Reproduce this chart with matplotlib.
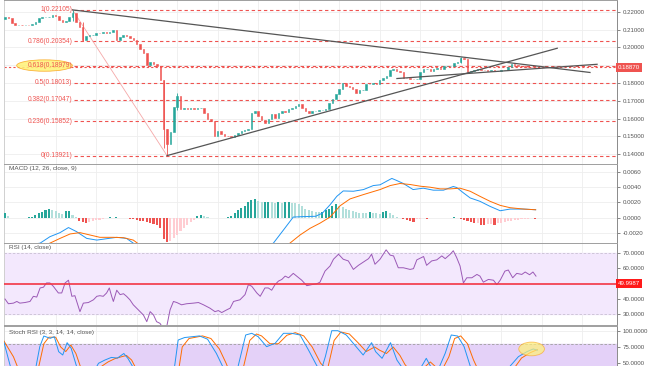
import matplotlib.pyplot as plt
from matplotlib.patches import Ellipse

plt.rcParams['font.family'] = ['Liberation Sans', 'DejaVu Sans']

# ---- price candles (close per bar, open = previous close) ----
first_open = 0.2160
closes = [
    0.2170, 0.2165, 0.2135, 0.2125, 0.2128, 0.2125, 0.2127, 0.2124, 0.2130, 0.2145,
    0.2164, 0.2168, 0.2170, 0.2172, 0.2180, 0.2176, 0.2155, 0.2140, 0.2150, 0.2170,
    0.2195, 0.2140, 0.2115, 0.2040, 0.2065, 0.2068, 0.2072, 0.2080, 0.2078, 0.2085,
    0.2083, 0.2088, 0.2100, 0.2040, 0.2060, 0.2068, 0.2062, 0.2055, 0.2040, 0.2020,
    0.1990, 0.1970, 0.1900, 0.1916, 0.1905, 0.1898, 0.1814, 0.1540, 0.1460, 0.1525,
    0.1665, 0.1725, 0.1652, 0.1660, 0.1655, 0.1658, 0.1655, 0.1660, 0.1662, 0.1630,
    0.1600, 0.1588, 0.1500, 0.1530, 0.1515, 0.1503, 0.1500, 0.1498, 0.1510, 0.1520,
    0.1530, 0.1535, 0.1542, 0.1630, 0.1645, 0.1612, 0.1590, 0.1577, 0.1598, 0.1628,
    0.1605, 0.1633, 0.1645, 0.1635, 0.1655, 0.1661, 0.1672, 0.1684, 0.1662, 0.1645,
    0.1633, 0.1640, 0.1644, 0.1646, 0.1648, 0.1655, 0.1690, 0.1710, 0.1740, 0.1768,
    0.1800, 0.1785, 0.1775, 0.1768, 0.1746, 0.1758, 0.1760, 0.1795, 0.1797, 0.1800,
    0.1797, 0.1814, 0.1830, 0.1838, 0.1875, 0.1880, 0.1868, 0.1862, 0.1830, 0.1826,
    0.1824, 0.1823, 0.1825, 0.1860, 0.1876, 0.1878, 0.1865, 0.1880, 0.1882, 0.1880,
    0.1893, 0.1897, 0.1898, 0.1912, 0.1918, 0.1938, 0.1932, 0.1860, 0.1870, 0.1873,
    0.1877, 0.1875, 0.1872, 0.1870, 0.1873, 0.1868, 0.1870, 0.1872, 0.1875, 0.1888,
    0.1905, 0.1900, 0.1898, 0.1893, 0.1890, 0.1889, 0.1888, 0.1887,
]
wick_idx = [20, 23, 47, 48, 51, 135]
wick_hi = [0.22105, 0.2140, 0.1814, 0.1540, 0.1745, 0.1945]
wick_lo = [0.2150, 0.2035, 0.1435, 0.13921, 0.1650, 0.1915]

fib_ratios = ['1', '0.786', '0.618', '0.5', '0.382', '0.236', '0']
fib_prices = [0.22105, 0.20354, 0.18979, 0.18013, 0.17047, 0.15852, 0.13921]
last_price = 0.18870

# trend lines: (start bar, start price, end bar, end price)
trend_lines = [
    (20, 0.22105, 173.3, 0.1859),
    (48, 0.13921, 163.6, 0.1995),
    (116.1, 0.1825, 175.4, 0.1905),
]
price_ticks = [0.14, 0.15, 0.16, 0.17, 0.18, 0.19, 0.20, 0.21, 0.22]

# ---- MACD (histogram in 1e-4 units) ----
macd_hist = [
    6, 2, 0.3, -0.2, -0.3, -0.2, 0.2, 0.5, 1.5, 4,
    6, 7.5, 9.6, 11.4, 10.5, 8.3, 6.1, 4.8, 8.3, 9.2,
    3.9, 0.5, -3.5, -4.8, -7, -5.7, -3.5, -2.6, -2.2, -1.3,
    -0.4, 1.7, 0.3, 1.7, 0.3, 0.4, 0.2, -0.9, -1.8, -2.6,
    -3.5, -4.4, -5.7, -7, -8.3, -9.6, -13.6, -27, -32, -30,
    -26, -22, -17, -13, -9, -5.5, -2.5, 3, 4, 2.5,
    1.5, 0.3, -0.3, -0.5, -0.4, -0.2, 1.7, 2, 6, 9.6,
    12.7, 14.9, 20, 22.8, 24.6, 21.5, 20.2, 20.6, 20.8, 20.2,
    19.7, 20.2, 19.3, 20.2, 20.4, 19.3, 19.0, 17.5, 14.9, 11.4,
    9.6, 8.3, 7.5, 7.0, 7.9, 9.6, 11.4, 14.9, 18, 16,
    13.6, 11.4, 9.6, 8.3, 7.0, 6.8, 6.7, 6.6, 7.9, 6.1,
    5.7, 5.5, 7.5, 8.3, 6.1, 3.9, 1.7, 0.4, -1.8, -2.6,
    -4.4, -4.8, -1.8, -0.9, -0.6, -1.5, -0.4, -0.3, -0.2, -0.3,
    -0.4, -0.2, 0.2, 0.8, 0.2, -1.8, -2.6, -3.9, -5.3, -7,
    -6.1, -9.2, -9.4, -8.3, -8.1, -9.2, -7, -6.1, -5.3, -4.4,
    -3.5, -2.6, -2.2, -1.8, -1.3, -0.9, -0.8, -0.9,
]
macd_x = [0, 10.4, 13.3, 16.3, 18.8, 21.2, 24.2, 27.2, 30.1, 33.1, 36, 38, 40, 48,
          60, 72, 79.5, 82.5, 85.4, 88, 92, 94, 96.3, 98.3, 100.2, 103.2, 106.2,
          109.1, 111.1, 113.1, 114.6, 116, 118, 120.9, 123.9, 126.9, 129.9, 132.8,
          133.8, 135.8, 137.8, 140.7, 143.7, 146.7, 149.6, 153.6, 157.2]
macd_v = [-40, -33, -24.6, -19.3, -12.7, -18, -26.8, -29, -27.2, -25.4, -26.8, -33, -45, -75,
          -70, -50, -33, -15.8, 1, 1.5, 2, 6, 17, 28, 35, 34.6, 36.8,
          42, 43, 47.8, 51.3, 48.7, 44.7, 36.8, 38.6, 36, 36, 40.8,
          39.5, 32.5, 25.9, 21.5, 14.9, 9.2, 11.4, 11.4, 10.5]
signal_x = [0, 10, 13.3, 16.3, 19.3, 22.2, 25.2, 28.1, 32.1, 35.1, 38, 40, 48, 60,
            72, 80, 84.4, 87.4, 90.4, 93.3, 96.3, 99.3, 102.2, 106.2, 111.1, 114.1,
            117, 120, 123, 125.9, 128.9, 131.9, 134.8, 137.8, 140.7, 143.7, 146.7,
            149.6, 153.6, 157.2]
signal_v = [-45, -38, -33, -26.8, -21, -19.3, -22.4, -25.4, -25.4, -25.9, -29, -35.5, -50, -65,
            -60, -45, -33, -22.4, -13.6, -7, 1, 15.8, 24.6, 30.3, 36.8, 42,
            44.7, 43.4, 41.2, 39.9, 37.7, 37.7, 38.6, 34.6, 28, 21.5, 16.2,
            13.2, 11.4, 10.5]
macd_ticks = [-0.002, 0.0, 0.002, 0.004, 0.006]

# ---- RSI ----
rsi_x = [0, 1, 2.5, 3.5, 4.4, 5.9, 7.4, 8.4, 9.4, 10.4, 11.4, 12.3, 13.3, 14.3, 15.8,
         16.8, 17.8, 18.8, 19.8, 20.7, 22.2, 23.2, 24.7, 26.2, 27.2, 28.1, 29.1, 30.1,
         30.9, 31.6, 32.1, 33.1, 34.1, 35.1, 36, 37, 38, 39, 40, 41, 42, 43, 44, 44.9,
         45.9, 46.9, 47.9, 48.9, 49.9, 50.9, 52.3, 53.8, 55.8, 57.3, 58.8, 60.7, 62.2,
         63.2, 64.2, 65.7, 66.7, 67.7, 68.6, 69.6, 71.1, 72.1, 73.1, 74.6, 75.6, 77, 78,
         79, 80, 81, 82, 83, 84, 85.4, 86.4, 87.9, 89.4, 90.9, 92.3, 93.3, 94.8, 96.3,
         97.3, 98.8, 100.2, 101.7, 103.2, 104.7, 106.2, 107.7, 108.6, 109.6, 111.1,
         112.9, 114.1, 115.1, 116.5, 118, 120, 121, 122, 124, 124.9, 126.4, 127.9,
         129.4, 130.4, 131.9, 132.8, 133.8, 134.8, 135.8, 136.8, 138.3, 139.8, 140.7,
         141.7, 143.2, 144.7, 145.7, 146.7, 148.1, 149.1, 150.4, 151.6, 153.1, 154.1,
         155.4, 156.4, 157.3]
rsi_v = [39.8, 36.7, 37.1, 38.2, 37.1, 37.5, 38.2, 41.6, 41.1, 47.1, 47.6, 50.4, 50.4, 48.2, 43.8,
         43.8, 50.4, 52.2, 41.6, 42, 31.5, 37.1, 37.5, 39.3, 41.6, 42, 41.6, 43.8,
         47.1, 41.6, 38.2, 45.6, 42.7, 43.3, 41.6, 39.3, 36, 33.8, 31.5, 29.3, 24.9, 31.5, 29.3, 24.9,
         23.8, 20.4, 21.6, 32.7, 38.2, 37.5, 36, 36.7, 37.1, 37.5, 36, 33.8, 31.5,
         32.2, 30.9, 32.7, 33.8, 38.2, 38.7, 39.3, 42.7, 49.3, 48.2, 43.8, 41.6, 47.1, 47.1,
         45.6, 49.3, 51.6, 52.7, 54.9, 53.8, 56.7, 54.9, 52.2, 48.6, 49.3, 49.8, 50.9, 58.2, 61.6,
         66, 69.3, 66, 64.9, 59.3, 62, 64.2, 66.4, 69.3, 62.7, 66,
         72.2, 68.7, 68.2, 60.4, 60.4, 59.3, 59.8, 65.6, 67.8, 62, 64.9, 65.6,
         68.2, 66.4, 69.3, 71.6, 67.1, 61.6, 50.4, 53.8, 53.8, 56, 54.9,
         50.9, 52.7, 52.2, 49.3, 52.2, 58.2, 58.9, 53.8, 56.7, 56, 57.6,
         55.8, 57.6, 54.9]
rsi_mid = 49.9987
rsi_ticks = [30, 40, 60, 70]

# ---- Stoch RSI ----
stoch_k_x = [-0.3, 1.6, 5.3, 9, 10.3, 11.5, 13.4, 14.6, 15.9, 17.1, 18.4, 19.6, 21.5, 23.9,
             27.7, 29.6, 31.5, 33.3, 35.2, 36.4, 37.7, 40, 45, 50.1, 51.3, 53.2, 57.6, 60,
             62.6, 64.4, 66.3, 68.8, 71.3, 73.1, 75, 77.5, 80, 82.5, 84.9, 87.4, 89.9,
             92.4, 93.7, 94.9, 96.8, 98.6, 101.1, 103.6, 106.1, 108.6, 109.8, 111.7,
             114.2, 116.1, 117.3, 120.4, 123.5, 124.8, 126, 127.9, 130.4, 132.2, 134.1,
             136, 137.8, 140.9, 145.9, 149.7, 152.1, 154.6, 156.5, 157.7]
stoch_k_v = [82, 45, 10, 40, 75.5, 91.8, 88.3, 90.8, 67.8, 62.7, 81.6, 73, 40, 15,
             50, 55, 59, 58, 65, 57.6, 46, 20, 5, 40, 85.7, 89.5, 92, 87,
             65.3, 46, 20, 40, 93.4, 96, 90.8, 75.5, 80.6, 96, 96, 93.4, 70.4,
             46, 40, 60.2, 100, 100, 93.4, 78, 62.7, 81.6, 67.8, 57.6,
             81.6, 55, 46, 30, 46, 57.6, 46, 35, 65.3, 93.4, 91.8,
             75.5, 46, 20, 20, 46, 60.2, 67.8, 72, 70]
stoch_d_x = [-0.3, 2.5, 6, 10, 11.5, 13, 15, 16.5, 18, 19.5, 21, 23, 25.5, 28.5, 30.5,
             32.5, 34.5, 36, 37.5, 39, 41.5, 46, 51, 52.5, 54.5, 58.5, 61, 63.5, 65.5,
             67.5, 70, 72.5, 74.5, 76, 78.5, 81, 83.5, 86, 88.5, 91, 93.5, 95.5, 97.5,
             99.5, 102, 104.5, 107, 109.5, 111, 113, 115, 117, 118.5, 121.5, 124.5, 126,
             127.5, 129, 131.5, 133.2, 135, 137, 138.8, 141.5, 146.5, 150.5, 153, 155.5,
             157.7]
stoch_d_v = [84, 60, 15, 45, 80, 90, 90, 75, 68, 78, 65, 35, 15, 45, 52,
             57, 60, 62, 55, 40, 15, 5, 25, 75, 88, 92, 88, 72, 50,
             25, 30, 85, 95, 92, 80, 80, 93, 97, 92, 75, 50, 40, 85,
             98, 95, 82, 68, 75, 70, 65, 75, 62, 48, 30, 45, 52,
             45, 35, 60, 88, 92, 80, 55, 25, 20, 40, 58, 66,
             71]
stoch_ticks = [50, 75, 100]

UP, DOWN = '#26a69a', '#ef5350'
FIB_RED = '#ef5350'
X_LEFT, X_RIGHT = -0.3, 181.3
TICK_KW = dict(labelsize=4.4, colors='#555555', length=2, width=0.5, pad=2)

fig = plt.figure(figsize=(6.54, 3.66), dpi=100)
W, H = 654.0, 366.0


def panel(top, bottom):
    ax = fig.add_axes([4 / W, 1 - bottom / H, 613 / W, (bottom - top) / H])
    ax.set_xlim(X_LEFT, X_RIGHT)
    ax.yaxis.tick_right()
    ax.tick_params(axis='y', **TICK_KW)
    ax.tick_params(axis='x', length=0, labelbottom=False)
    ax.set_xticks(range(15, 182, 12))
    ax.grid(True, color='#eeeeee', linewidth=0.6, zorder=0)
    ax.set_axisbelow(True)
    ax.spines['left'].set_color('#d0d0d0')
    ax.spines['right'].set_color('#8a8a8a')
    ax.spines['top'].set_color('#9e9e9e')
    ax.spines['bottom'].set_color('#9e9e9e')
    for s in ax.spines.values():
        s.set_linewidth(0.7)
    return ax


# ---------- price panel ----------
ax = panel(0, 164)
ax.set_ylim(0.1345, 0.2266)
ax.set_yticks(price_ticks)
# the 0.19000 label sits under the last-price box, so leave it blank
ax.set_yticklabels(['' if abs(t - 0.19) < 1e-9 else '%.5f' % t for t in price_ticks])

opens = [first_open] + closes[:-1]
for i, (o, c) in enumerate(zip(opens, closes)):
    col = UP if c >= o else DOWN
    ax.bar(i, c - o, bottom=o, width=0.45, color=col, edgecolor=col, linewidth=0.4, zorder=3)
for i, hi, lo in zip(wick_idx, wick_hi, wick_lo):
    col = UP if closes[i] >= opens[i] else DOWN
    ax.vlines(i, lo, hi, color=col, linewidth=0.6, zorder=3)

for r, p in zip(fib_ratios, fib_prices):
    ax.hlines(p, 20.3, X_RIGHT, colors=FIB_RED, linewidth=0.8, linestyles=(0, (3, 2.5)), zorder=2)
    ax.text(19.9, p, '%s(%.5f)' % (r, p), color=FIB_RED, fontsize=4.8,
            ha='right', va='center', zorder=6)
ax.axhline(last_price, color=FIB_RED, linewidth=0.8, linestyle=(0, (2, 2)), zorder=2)
ax.plot([wick_idx[0], wick_idx[3]], [fib_prices[0], fib_prices[-1]],
        color='#f5a8a8', linewidth=0.6, zorder=2)
for x0, y0, x1, y1 in trend_lines:
    ax.plot([x0, x1], [y0, y1], color='#555555', linewidth=0.9, zorder=4)

ax.add_patch(Ellipse((11.7, fib_prices[2]), 16.5, 0.0064, facecolor='#fff176',
                     edgecolor='#f9a825', linewidth=0.6, alpha=0.85, zorder=5))
ax.text(1.0015, last_price, '0.18870', transform=ax.get_yaxis_transform(),
        fontsize=4.4, color='white', ha='left', va='center', zorder=10, clip_on=False,
        bbox=dict(boxstyle='square,pad=0.35', facecolor='#ef5350', edgecolor='none'))

# ---------- MACD panel ----------
ax = panel(164, 243)
ax.set_ylim(-0.00328, 0.00701)
ax.set_yticks(macd_ticks)
ax.set_yticklabels(['%.4f' % t for t in macd_ticks])
prev = 0
for i, v in enumerate(macd_hist):
    if v >= 0:
        col = '#26a69a' if v >= prev else '#b2dfdb'
    else:
        col = '#ef5350' if v <= prev else '#ffcdd2'
    ax.bar(i, v * 1e-4, width=0.62, color=col, zorder=3)
    prev = v
ax.plot(macd_x, [v * 1e-4 for v in macd_v], color='#2196f3', linewidth=0.7, zorder=4)
ax.plot(signal_x, [v * 1e-4 for v in signal_v], color='#ff6d00', linewidth=0.7, zorder=4)
ax.text(1.2, 0.0064, 'MACD (12, 26, close, 9)', fontsize=4.6, color='#555555',
        ha='left', va='center')

# ---------- RSI panel ----------
ax = panel(243, 325)
ax.set_ylim(22.7, 76.7)
ax.set_yticks(rsi_ticks)
ax.set_yticklabels(['%.4f' % t for t in rsi_ticks])
ax.axhspan(30, 70, color='#f3e8fd', zorder=1)
for lv in (30, 70):
    ax.axhline(lv, color='#c9c0d3', linewidth=0.6, linestyle=(0, (3, 2)), zorder=2)
ax.plot(rsi_x, rsi_v, color='#9b59b6', linewidth=0.7, zorder=4)
ax.axhline(rsi_mid, color='#f23645', linewidth=1.2, zorder=5)
ax.text(1.2, 73.5, 'RSI (14, close)', fontsize=4.6, color='#555555', ha='left', va='center')
ax.text(1.0015, rsi_mid, '%.4f' % rsi_mid, transform=ax.get_yaxis_transform(),
        fontsize=4.4, color='white', ha='left', va='center', zorder=10, clip_on=False,
        bbox=dict(boxstyle='square,pad=0.35', facecolor='#ff1a1a', edgecolor='none'))

# ---------- Stoch RSI panel (runs off the bottom of the picture) ----------
ax = fig.add_axes([4 / W, 1 - 420 / H, 613 / W, 94 / H])
ax.set_xlim(X_LEFT, X_RIGHT)
ax.set_ylim(-37, 107.2)
ax.yaxis.tick_right()
ax.tick_params(axis='y', **TICK_KW)
ax.tick_params(axis='x', length=0, labelbottom=False)
ax.set_xticks(range(15, 182, 12))
ax.grid(True, color='#eeeeee', linewidth=0.6, zorder=0)
ax.set_axisbelow(True)
ax.spines['left'].set_color('#d0d0d0')
ax.spines['right'].set_color('#8a8a8a')
ax.spines['top'].set_color('#9e9e9e')
for s in ax.spines.values():
    s.set_linewidth(0.7)
ax.set_yticks(stoch_ticks)
ax.set_yticklabels(['%.4f' % t for t in stoch_ticks])
ax.axhspan(20, 80, color='#e4d1f8', zorder=1)
ax.axhline(80, color='#9e9e9e', linewidth=0.6, linestyle=(0, (3, 2)), zorder=2)
ax.plot(stoch_d_x, stoch_d_v, color='#ff6d00', linewidth=0.7, zorder=4)
ax.plot(stoch_k_x, stoch_k_v, color='#2196f3', linewidth=0.7, zorder=4)
ax.add_patch(Ellipse((156, 72), 7.6, 21, facecolor='#fff176', edgecolor='#f9a825',
                     linewidth=0.6, alpha=0.7, zorder=5))
ax.text(1.2, 97.5, 'Stoch RSI (3, 3, 14, 14, close)', fontsize=4.6, color='#555555',
        ha='left', va='center')

fig.savefig('out.png', dpi=100)
